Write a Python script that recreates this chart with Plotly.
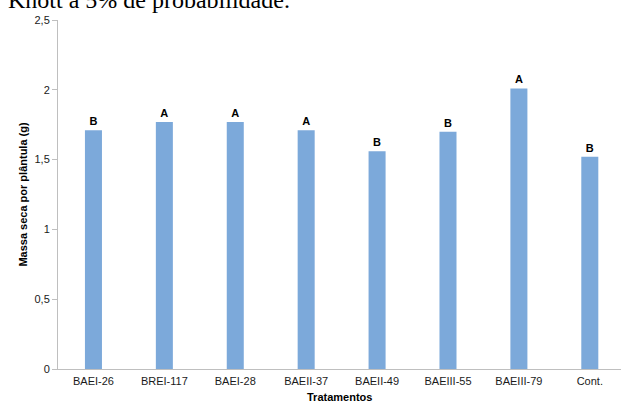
import plotly.graph_objects as go

categories = ["BAEI-26", "BREI-117", "BAEI-28", "BAEII-37", "BAEII-49", "BAEIII-55", "BAEIII-79", "Cont."]
values = [1.71, 1.77, 1.77, 1.71, 1.56, 1.70, 2.01, 1.52]
letters = ["B", "A", "A", "A", "B", "B", "A", "B"]
ytick_vals = [0, 0.5, 1, 1.5, 2, 2.5]
ytick_text = ["0", "0,5", "1", "1,5", "2", "2,5"]

fig = go.Figure()
fig.add_trace(go.Bar(
    x=categories, y=values, text=["<b>%s</b>" % t for t in letters], textposition="outside",
    textfont=dict(family="Liberation Sans, Arial", size=11, color="#000000"),
    marker=dict(color="#7CA9DA", line=dict(width=0)),
    width=0.24, cliponaxis=False,
))

fig.update_layout(
    template="none",
    width=621, height=404,
    margin=dict(l=58, r=0, t=20, b=35, pad=0),
    paper_bgcolor="white", plot_bgcolor="white",
    showlegend=False,
    font=dict(family="Liberation Sans, Arial", size=11, color="#000000"),
    xaxis=dict(
        automargin=False, range=[-0.5, 7.44],
        showline=True, linecolor="#bfbfbf", linewidth=1,
        ticks="outside", ticklen=2, tickcolor="rgba(0,0,0,0)", showgrid=False, zeroline=False,
        tickfont=dict(size=11, color="#1a1a1a"),
    ),
    yaxis=dict(
        automargin=False,
        range=[0, 2.5], tickvals=ytick_vals, ticktext=ytick_text,
        showline=True, linecolor="#bfbfbf", linewidth=1,
        ticks="outside", ticklen=5, tickcolor="#bfbfbf",
        showgrid=False, zeroline=False,
        tickfont=dict(size=11, color="#1a1a1a"),
        title=dict(text="<b>Massa seca por plântula (g)</b>", font=dict(size=11, color="#000000"), standoff=4),
    ),
    annotations=[
        dict(
            text="Knott a 5% de probabilidade.", xref="paper", yref="paper",
            x=-0.0924, y=1.0143, xanchor="left", yanchor="bottom", showarrow=False,
            font=dict(family="Liberation Serif, Times New Roman", size=24, color="#000000"),
        ),
        dict(
            text="<b>Tratamentos</b>", xref="paper", yref="paper",
            x=0.5, y=-0.08, xanchor="center", yanchor="middle", showarrow=False,
            font=dict(size=11, color="#000000"),
        ),
    ],
)

fig.write_html("out.html", config={"displayModeBar": False},
               post_script="document.body.style.margin='0';document.body.style.overflow='hidden';")
